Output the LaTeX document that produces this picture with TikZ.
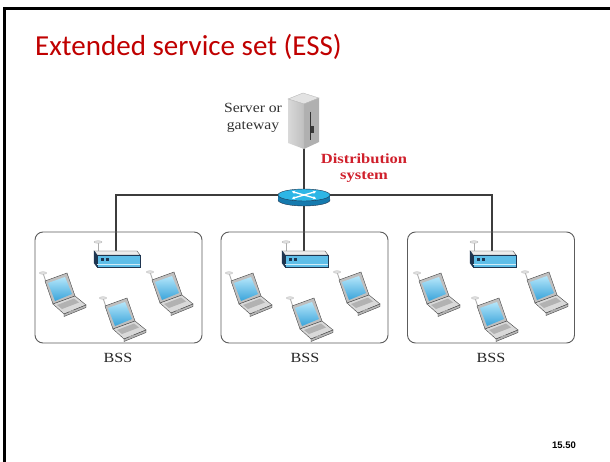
\documentclass[tikz,border=0pt]{standalone}
\usepackage{fontspec}
\setmainfont{Liberation Serif}
\newfontfamily\titlefont{Carlito}
\newfontfamily\pagenumfont{Liberation Sans}
\usetikzlibrary{shapes.geometric,arrows.meta,backgrounds}

\definecolor{titlered}{HTML}{C00000}
\definecolor{dsred}{HTML}{D0202C}
\definecolor{wire}{HTML}{3C3C3C}
\definecolor{boxline}{HTML}{5C5C5C}
\definecolor{navy}{HTML}{1E3550}
\definecolor{apblue}{HTML}{5EBEE8}
\definecolor{routertop}{HTML}{2DB6E6}
\definecolor{routerside}{HTML}{157AAE}
\definecolor{screenhi}{HTML}{B4E6FA}
\definecolor{screenlo}{HTML}{3AA4DA}

\tikzset{
  wireline/.style={draw=wire, line width=1.4pt},
  bssbox/.style={draw=boxline, line width=0.9pt, rounded corners=8pt,
                 minimum width=167pt, minimum height=111pt},
  bsslabel/.style={font=\fontsize{14}{16}\selectfont, text=black!85},
  % a laptop with a small antenna, drawn in a 46 x 46 box
  laptop/.pic={
    \draw[gray!65, line width=0.9pt] (6,11) -- (3,2);
    \filldraw[fill=gray!25, draw=gray!60, line width=0.3pt] (3,2) ellipse [x radius=3.6pt, y radius=1.3pt];
    \filldraw[fill=gray!50, draw=gray!55!black, line width=0.4pt]
      (5,10) -- (27,2) -- (35,25) -- (13,33) -- cycle;
    \shade[top color=screenhi, bottom color=screenlo]
      (8,12) -- (25,6) -- (32,23) -- (15,30) -- cycle;
    \filldraw[fill=gray!30, draw=gray!55!black, line width=0.4pt]
      (13,33) -- (35,25) -- (46,34) -- (24,43) -- cycle;
    \filldraw[fill=gray!55, draw=gray!55!black, line width=0.4pt]
      (24,43) -- (46,34) -- (46,36.5) -- (24,45.5) -- cycle;
    \fill[gray!60] (17,34) -- (34,27.5) -- (39,31.5) -- (22,38) -- cycle;
    \fill[gray!65] (29,40.5) -- (33,39) -- (34.5,40.5) -- (30.5,42) -- cycle;
  },
  % a wireless access point, 47 wide, antenna on the left
  accesspoint/.pic={
    \draw[gray!65, line width=0.9pt] (5,3) -- (5,-8);
    \filldraw[fill=gray!25, draw=gray!60, line width=0.3pt] (5,-8) ellipse [x radius=4pt, y radius=1.3pt];
    \filldraw[fill=gray!15, draw=gray!60!black, line width=0.4pt]
      (1,1) -- (44,1) -- (47,5) -- (4,5) -- cycle;
    \filldraw[fill=navy, draw=navy, line width=0.4pt]
      (1,1) -- (4,5) -- (4,17) -- (1,13) -- cycle;
    \filldraw[fill=apblue, draw=navy, line width=0.5pt] (4,5) rectangle (47,17);
    \draw[white!70!apblue, line width=0.5pt] (4,14) -- (47,14);
    \fill[navy] (8,8) rectangle (11,11);
    \fill[navy] (13,8) rectangle (16,11);
  }
}

\begin{document}
\begin{tikzpicture}[x=1pt, y=-1pt]
\useasboundingbox (0,0) rectangle (610,462);

% slide frame (top and left edges)
\draw[line width=3pt] (4.5,462) -- (4.5,8.5) -- (610,8.5);

% title
\node[anchor=base west, inner sep=0pt, text=titlered,
      font=\titlefont\fontsize{29}{35}\selectfont] (title) at (35,56)
  {Extended service set (ESS)};

% server or gateway tower
\filldraw[fill=gray!22, draw=gray!60, line width=0.3pt]
  (288,99) -- (303,93) -- (319,98) -- (304,104) -- cycle;
\shade[left color=gray!30, right color=gray!50]
  (288,99) -- (304,104) -- (304,149) -- (288,143) -- cycle;
\fill[gray!62] (304,104) -- (319,98) -- (319,142) -- (304,149) -- cycle;
\draw[gray!40!black, line width=0.5pt] (310,112) -- (310,140);
\fill[gray!45!black] (311,126) rectangle (314,133);
\draw[gray!55, line width=0.3pt] (288,99) -- (304,104) -- (319,98)
  (304,104) -- (304,149);
\coordinate (srv) at (304,148);

\node[align=center, inner sep=0pt, font=\fontsize{14}{17}\selectfont, text=black!80]
  (srvlabel) at (253,118)
  {\scalebox{1.12}[1]{Server or}\\\scalebox{1.12}[1]{gateway}};

% distribution system label
\node[align=center, inner sep=0pt, text=dsred,
      font=\bfseries\fontsize{14}{15.5}\selectfont] (dslabel) at (364,168)
  {\scalebox{1.18}[1]{Distribution}\\\scalebox{1.18}[1]{system}};

% distribution router (top face is the node)
\fill[routerside, draw=navy, line width=0.4pt] (304,200) ellipse [x radius=26pt, y radius=6pt];
\fill[routerside] (278,195) rectangle (330,200);
\node[ellipse, fill=routertop, draw=navy, line width=0.4pt,
      minimum width=52pt, minimum height=12pt, inner sep=0pt] (ds) at (304,195) {};
\draw[white, line width=1.3pt, -{Stealth[length=3pt,width=3.5pt]}] (304,195) -- (292,191.5);
\draw[white, line width=1.3pt, -{Stealth[length=3pt,width=3.5pt]}] (304,195) -- (316,191.5);
\draw[white, line width=1.3pt, -{Stealth[length=3pt,width=3.5pt]}] (304,195) -- (292,198.5);
\draw[white, line width=1.3pt, -{Stealth[length=3pt,width=3.5pt]}] (304,195) -- (316,198.5);

% basic service sets
\node[bssbox] (bss1) at (118.5,287.5) {};
\node[bssbox] (bss2) at (304.5,287.5) {};
\node[bssbox] (bss3) at (491,287.5) {};
\node[bsslabel] (lbl1) at (118,358) {\scalebox{1.15}[1]{BSS}};
\node[bsslabel] (lbl2) at (305,358) {\scalebox{1.15}[1]{BSS}};
\node[bsslabel] (lbl3) at (491,358) {\scalebox{1.15}[1]{BSS}};

% access points
\coordinate (ap1) at (116,251);
\coordinate (ap2) at (304,251);
\coordinate (ap3) at (492,251);
\pic at (93,250) {accesspoint};
\pic at (281,250) {accesspoint};
\pic at (469,250) {accesspoint};

% laptops
\pic at (40,271) {laptop};
\pic at (100,296) {laptop};
\pic at (147,270) {laptop};
\pic at (226,271) {laptop};
\pic at (287,296) {laptop};
\pic at (334,270) {laptop};
\pic at (414,271) {laptop};
\pic at (472,296) {laptop};
\pic at (522,270) {laptop};

% wiring, kept behind the devices
\begin{scope}[on background layer]
  \fill[white] (0,0) rectangle (610,462);
  \draw[wireline] (srv) -- (ds.center);
  \draw[wireline] (ap1) -- (ap1 |- ds.center) -- (ap3 |- ds.center) -- (ap3);
  \draw[wireline] (ds.center) -- (ap2);
\end{scope}

% page number
\node[font=\pagenumfont\bfseries\fontsize{9.5}{11}\selectfont] (pnum) at (564,445) {15.50};
\end{tikzpicture}
\end{document}
